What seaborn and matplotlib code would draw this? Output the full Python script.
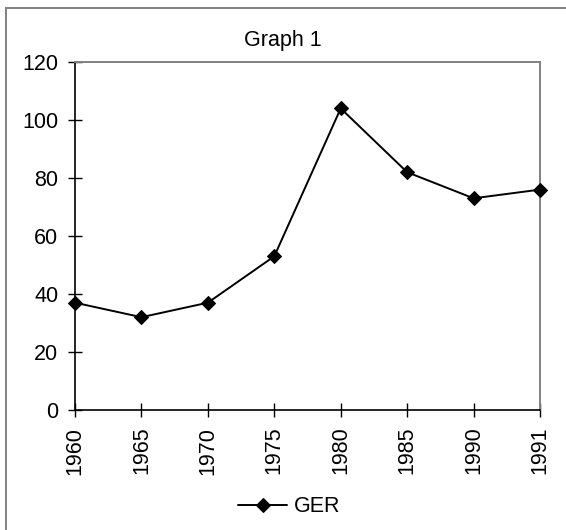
import matplotlib
matplotlib.use("Agg")
import matplotlib.pyplot as plt
import matplotlib.patches as mpatches
import seaborn as sns
import pandas as pd

years = ["1960", "1965", "1970", "1975", "1980", "1985", "1990", "1991"]
ger = [37, 32, 37, 53, 104, 82, 73, 76]
y_ticks = [0, 20, 40, 60, 80, 100, 120]
series_name = "GER"
title = "Graph 1"

sns.set_theme(style="white")
plt.rcParams["font.family"] = ["Liberation Sans", "DejaVu Sans"]
plt.rcParams["text.color"] = "black"

df = pd.DataFrame({"year": years, "value": ger, "series": series_name})

W, H = 566, 530
fig = plt.figure(figsize=(W / 100, H / 100), dpi=100)
ax = fig.add_axes([75 / W, 1 - 410 / H, (540 - 75) / W, (410 - 62) / H])

sns.lineplot(data=df, x="year", y="value", hue="series", palette=["black"],
             marker="D", markersize=7.5, markeredgecolor="black",
             linewidth=1.4, sort=False, ax=ax, legend=True, clip_on=False, zorder=5)

ax.set_xlim(0, len(years) - 1)
ax.set_ylim(0, 120)
ax.set_yticks(y_ticks)
ax.set_xticks(range(len(years)))
ax.set_xticklabels(years, rotation=90)
ax.set_xlabel("")
ax.set_ylabel("")

for s in ["left", "bottom"]:
    ax.spines[s].set_color("black")
    ax.spines[s].set_linewidth(1.2)
for s in ["top", "right"]:
    ax.spines[s].set_color("#808080")
    ax.spines[s].set_linewidth(1.4)
    ax.spines[s].set_visible(True)

ax.tick_params(axis="both", direction="inout", length=10, width=1.0,
               color="black", labelsize=15.5, labelcolor="black", pad=7,
               left=True, bottom=True)

handles, labels = ax.get_legend_handles_labels()
ax.get_legend().remove()
fig.legend(handles, labels, loc="center", bbox_to_anchor=(289 / W, 1 - 507 / H),
           frameon=False, fontsize=15.5, handlelength=2.3, handletextpad=0.3,
           labelcolor="black")

fig.text(0.5, 1 - 46 / H, title, ha="center", va="baseline", fontsize=15.5, color="black")

border = mpatches.Rectangle((6 / W, -0.2), 1.5, 1.2 - 8 / H, transform=fig.transFigure,
                            fill=False, edgecolor="#808080", linewidth=1.4, clip_on=False)
fig.patches.append(border)

fig.savefig("out.png", dpi=100, facecolor="white")
